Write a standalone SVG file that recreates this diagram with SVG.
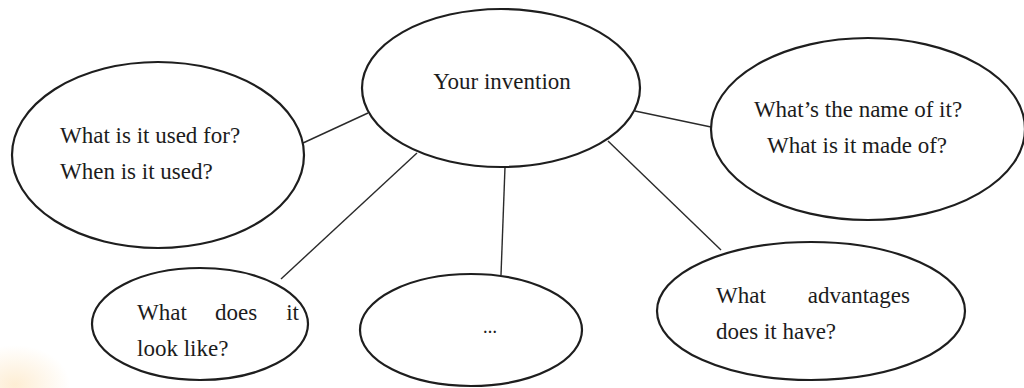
<svg xmlns="http://www.w3.org/2000/svg" width="1024" height="388" viewBox="0 0 1024 388">
<defs>
<radialGradient id="glow" cx="0.5" cy="0.5" r="0.5">
<stop offset="0" stop-color="#fde9c9" stop-opacity="0.8"/>
<stop offset="1" stop-color="#fde9c9" stop-opacity="0"/>
</radialGradient>
</defs>
<style>
.node ellipse{fill:#ffffff;stroke:#1e1e1e;stroke-width:2.2}
.conn line{stroke:#2a2a2a;stroke-width:1.4}
text{font-family:"Liberation Serif","Times New Roman",serif;font-size:23px;fill:#1c1c1c}
.c{text-anchor:middle}
.e{text-anchor:end}
</style>
<rect width="1024" height="388" fill="#ffffff"/>
<ellipse cx="15" cy="385" rx="55" ry="40" fill="url(#glow)"/>
<g id="connectors" class="conn">
<line x1="303" y1="143" x2="368" y2="113"/>
<line x1="281" y1="279" x2="417" y2="153"/>
<line x1="505" y1="167" x2="501" y2="275"/>
<line x1="635" y1="111" x2="711" y2="127"/>
<line x1="608" y1="141" x2="721" y2="250"/>
</g>
<g id="node-center" class="node">
<ellipse cx="501" cy="88" rx="139" ry="79"/>
<text x="502" y="89" class="c">Your invention</text>
</g>
<g id="node-use" class="node">
<ellipse cx="158" cy="155" rx="146" ry="93"/>
<text x="60" y="143">What is it used for?</text>
<text x="60" y="179">When is it used?</text>
</g>
<g id="node-name" class="node">
<ellipse cx="868" cy="129" rx="157" ry="91"/>
<text x="858" y="117" class="c">What’s the name of it?</text>
<text x="857" y="153" class="c">What is it made of?</text>
</g>
<g id="node-look" class="node">
<ellipse cx="200" cy="324" rx="108" ry="56"/>
<text x="137" y="320">What</text>
<text x="215" y="320">does</text>
<text x="299" y="320" class="e">it</text>
<text x="137" y="356">look like?</text>
</g>
<g id="node-more" class="node">
<ellipse cx="471" cy="330" rx="111" ry="56"/>
<text x="490" y="333" class="c" style="font-size:14px;font-weight:bold">…</text>
</g>
<g id="node-advantages" class="node">
<ellipse cx="811" cy="311" rx="154" ry="69"/>
<text x="716" y="303">What</text>
<text x="910" y="303" class="e">advantages</text>
<text x="716" y="339">does it have?</text>
</g>
</svg>
